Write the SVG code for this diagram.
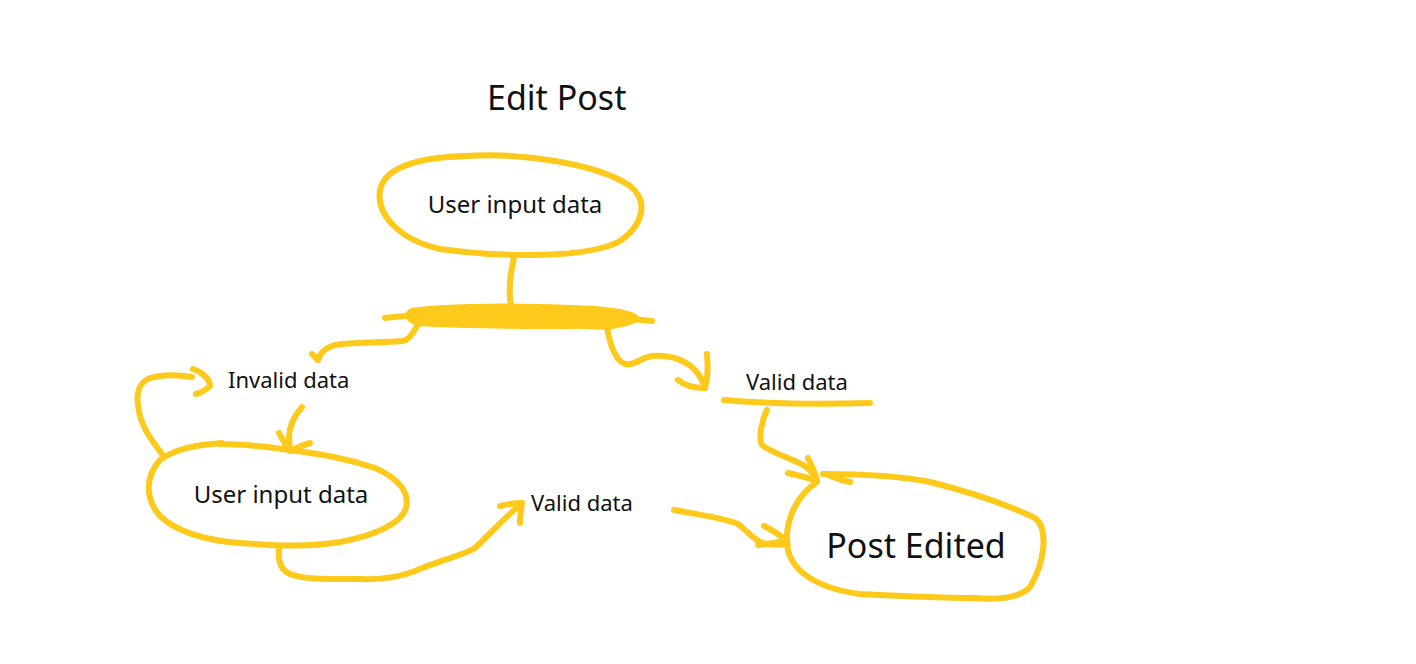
<svg xmlns="http://www.w3.org/2000/svg" width="1416" height="664" viewBox="0 0 1416 664">
  <style>
    .ink { fill: none; stroke: #FDC91A; stroke-width: 6; stroke-linecap: round; stroke-linejoin: round; }
    .blob { fill: #FDC91A; stroke: #FDC91A; stroke-width: 6; stroke-linejoin: round; }
    .lbl { font-family: "Noto Sans", "Open Sans", sans-serif; fill: #111; }
  </style>
  <rect width="1416" height="664" fill="#fff"/>

  <text class="lbl" x="487" y="110" font-size="34">Edit Post</text>

  <g id="node-input-top">
    <path class="ink" d="M 452 157 C 520 150, 600 165, 630 186 C 650 202, 642 226, 620 241 C 590 258, 505 258, 440 249 C 400 240, 376 215, 380 190 C 385 166, 420 158, 462 156"/>
    <text class="lbl" x="515" y="213" font-size="24" text-anchor="middle">User input data</text>
  </g>

  <g id="node-decision">
    <path class="blob" d="M 412 311 C 440 306, 520 305, 595 309 C 618 311, 634 314, 636 318 C 634 322, 622 324, 612 326 C 600 328, 588 325, 570 326 C 520 326, 450 325, 418 323 C 408 320, 406 314, 412 311 Z"/>
    <path class="ink" d="M 385 318 C 420 314, 440 316, 460 316"/>
    <path class="ink" d="M 620 318 C 632 319, 642 320, 652 321"/>
  </g>

  <g id="node-invalid">
    <text class="lbl" x="228" y="388" font-size="22">Invalid data</text>
  </g>

  <g id="node-valid-right">
    <text class="lbl" x="746" y="390" font-size="22">Valid data</text>
    <path class="ink" d="M 724 400 C 770 404, 830 404, 870 403"/>
  </g>

  <g id="node-input-bottom">
    <path class="ink" d="M 220 444 C 250 444, 275 448, 290 450 C 320 454, 345 458, 375 468 C 398 478, 410 492, 406 508 C 402 522, 378 535, 340 542 C 310 547, 280 546, 240 543 C 200 540, 175 530, 160 516 C 146 500, 144 478, 160 460 C 175 449, 195 445, 222 443"/>
    <text class="lbl" x="281" y="503" font-size="24" text-anchor="middle">User input data</text>
  </g>

  <g id="node-valid-bottom">
    <text class="lbl" x="531" y="511" font-size="22">Valid data</text>
  </g>

  <g id="node-post-edited">
    <path class="ink" d="M 823 474 C 860 474, 900 476, 930 482 C 970 492, 1010 506, 1035 518 C 1048 528, 1046 560, 1030 587 C 1020 598, 1000 600, 975 598 C 940 598, 900 596, 860 594 C 815 588, 790 570, 787 545 C 785 520, 797 495, 817 482"/>
    <text class="lbl" x="916" y="558" font-size="34" text-anchor="middle">Post Edited</text>
  </g>

  <g id="connectors">
    <!-- top node to decision bar -->
    <path class="ink" d="M 514 258 C 510 275, 508 290, 511 305"/>
    <!-- decision bar to invalid data -->
    <path class="ink" d="M 418 325 C 412 333, 410 340, 402 341 C 380 343, 350 342, 335 345 C 325 348, 320 353, 318 360"/>
    <path class="ink" d="M 312 354 L 318 360"/>
    <!-- decision bar to valid data (right) -->
    <path class="ink" d="M 607 327 C 610 345, 615 360, 625 364 C 635 366, 642 357, 652 356 C 670 355, 685 360, 695 370 C 702 378, 704 384, 705 388"/>
    <path class="ink" d="M 707 354 C 708 365, 708 378, 705 388 C 695 388, 685 386, 678 380"/>
    <!-- valid data (right) to post edited -->
    <path class="ink" d="M 767 410 C 762 420, 758 438, 762 445 C 770 452, 790 458, 805 466 C 810 470, 815 476, 817 481"/>
    <path class="ink" d="M 808 458 C 812 466, 816 474, 817 481 C 808 478, 798 475, 788 473"/>
    <path class="ink" d="M 826 474 C 835 478, 843 481, 850 482"/>
    <!-- invalid data loop back into bottom node -->
    <path class="ink" d="M 162 454 C 150 438, 140 425, 138 405 C 136 392, 140 382, 150 378 C 163 374, 180 375, 192 377"/>
    <path class="ink" d="M 193 369 C 203 372, 210 380, 210 386 C 205 391, 200 393, 196 394"/>
    <!-- invalid data down into bottom node -->
    <path class="ink" d="M 302 407 C 295 415, 289 425, 289 438 L 290 450"/>
    <path class="ink" d="M 279 433 C 283 440, 286 446, 290 451 C 296 448, 303 445, 310 443"/>
    <!-- bottom node to valid data (bottom) -->
    <path class="ink" d="M 279 549 C 278 560, 280 570, 290 574 C 305 580, 330 579, 360 579 C 385 580, 400 577, 415 571 C 440 560, 462 556, 475 548 C 490 534, 505 517, 520 505"/>
    <path class="ink" d="M 500 506 C 508 504, 515 503, 522 503 C 521 510, 520 516, 520 523"/>
    <!-- valid data (bottom) to post edited -->
    <path class="ink" d="M 674 510 C 700 515, 725 518, 738 524 C 748 532, 755 540, 762 543 C 770 545, 780 545, 788 544"/>
    <path class="ink" d="M 764 526 C 772 530, 780 535, 787 541 C 777 542, 767 544, 758 545"/>
  </g>
</svg>
